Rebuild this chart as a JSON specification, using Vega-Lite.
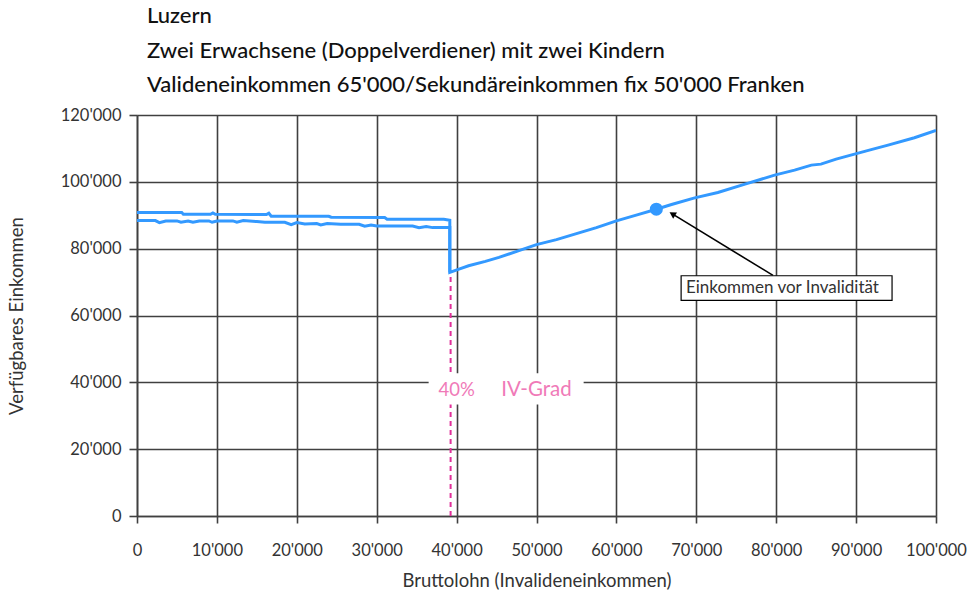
{
  "$schema": "https://vega.github.io/schema/vega-lite/v6.json",
  "autosize": {"type": "none"},
  "width": 799,
  "height": 401,
  "padding": {"left": 137, "top": 115, "right": 40, "bottom": 83},
  "background": "white",
  "config": {
    "locale": {"number": {"decimal": ".", "thousands": "'", "grouping": [3], "currency": ["", ""]}},
    "font": "Lato",
    "view": {"stroke": null}
  },
  "title": {
    "text": ["Luzern", "Zwei Erwachsene (Doppelverdiener) mit zwei Kindern", "Valideneinkommen 65'000/Sekundäreinkommen fix 50'000 Franken"],
    "anchor": "start",
    "frame": "group",
    "dx": 10,
    "offset": 10,
    "font": "Lato",
    "fontSize": 22,
    "fontWeight": 500,
    "lineHeight": 34.5,
    "color": "#111111"
  },
  "datasets": {
    "lines": [
      {"s": "A", "x": 0, "y": 90800}, {"s": "A", "x": 5600, "y": 90800}, {"s": "A", "x": 5800, "y": 90300},
      {"s": "A", "x": 9200, "y": 90300}, {"s": "A", "x": 9500, "y": 90700}, {"s": "A", "x": 9800, "y": 90300},
      {"s": "A", "x": 16200, "y": 90200}, {"s": "A", "x": 16500, "y": 90600}, {"s": "A", "x": 16800, "y": 89700},
      {"s": "A", "x": 24000, "y": 89700}, {"s": "A", "x": 24300, "y": 89400}, {"s": "A", "x": 31000, "y": 89300},
      {"s": "A", "x": 31300, "y": 88800}, {"s": "A", "x": 38400, "y": 88800}, {"s": "A", "x": 39150, "y": 88500},
      {"s": "A", "x": 39150, "y": 72900}, {"s": "A", "x": 40300, "y": 73900}, {"s": "A", "x": 41500, "y": 74900},
      {"s": "A", "x": 43600, "y": 76200}, {"s": "A", "x": 45300, "y": 77400}, {"s": "A", "x": 47800, "y": 79400},
      {"s": "A", "x": 50000, "y": 81200}, {"s": "A", "x": 52500, "y": 82700}, {"s": "A", "x": 55000, "y": 84500},
      {"s": "A", "x": 57500, "y": 86300}, {"s": "A", "x": 60000, "y": 88300}, {"s": "A", "x": 62700, "y": 90200},
      {"s": "A", "x": 65000, "y": 91800}, {"s": "A", "x": 66900, "y": 93200}, {"s": "A", "x": 69800, "y": 95200},
      {"s": "A", "x": 72700, "y": 96800}, {"s": "A", "x": 76100, "y": 99300}, {"s": "A", "x": 79800, "y": 102000},
      {"s": "A", "x": 82300, "y": 103500}, {"s": "A", "x": 84400, "y": 105000}, {"s": "A", "x": 85600, "y": 105300},
      {"s": "A", "x": 87500, "y": 106800}, {"s": "A", "x": 89800, "y": 108300}, {"s": "A", "x": 92000, "y": 109700},
      {"s": "A", "x": 94000, "y": 111000}, {"s": "A", "x": 97300, "y": 113200}, {"s": "A", "x": 100000, "y": 115400},
      {"s": "B", "x": 0, "y": 88400}, {"s": "B", "x": 2300, "y": 88400}, {"s": "B", "x": 2800, "y": 87800},
      {"s": "B", "x": 3600, "y": 88300}, {"s": "B", "x": 5000, "y": 88300}, {"s": "B", "x": 5500, "y": 87900},
      {"s": "B", "x": 6400, "y": 88300}, {"s": "B", "x": 7000, "y": 87900}, {"s": "B", "x": 7800, "y": 88300},
      {"s": "B", "x": 9000, "y": 88300}, {"s": "B", "x": 9400, "y": 87900}, {"s": "B", "x": 10000, "y": 88300},
      {"s": "B", "x": 12000, "y": 88300}, {"s": "B", "x": 12500, "y": 87900}, {"s": "B", "x": 13300, "y": 88400},
      {"s": "B", "x": 15000, "y": 88100}, {"s": "B", "x": 16000, "y": 87900}, {"s": "B", "x": 18500, "y": 87900},
      {"s": "B", "x": 19300, "y": 87200}, {"s": "B", "x": 20000, "y": 87800}, {"s": "B", "x": 21000, "y": 87400},
      {"s": "B", "x": 22500, "y": 87500}, {"s": "B", "x": 23000, "y": 87100}, {"s": "B", "x": 23800, "y": 87500},
      {"s": "B", "x": 25500, "y": 87300}, {"s": "B", "x": 27800, "y": 87300}, {"s": "B", "x": 28500, "y": 86700},
      {"s": "B", "x": 29300, "y": 87100}, {"s": "B", "x": 30000, "y": 86800}, {"s": "B", "x": 34500, "y": 86800},
      {"s": "B", "x": 35300, "y": 86300}, {"s": "B", "x": 36200, "y": 86600}, {"s": "B", "x": 37000, "y": 86300},
      {"s": "B", "x": 39150, "y": 86300}, {"s": "B", "x": 39150, "y": 72900}
    ],
    "marker": [{"x": 65000, "y": 91800, "label": "Einkommen vor Invalidität"}],
    "grad": [{"x": 39250, "y": 0, "y2": 72900, "pct": "40%", "lbl": "IV-Grad"}]
  },
  "layer": [
    {
      "data": {"name": "grad"},
      "mark": {"type": "rule", "color": "#e0309a", "strokeWidth": 2, "strokeDash": [5, 4]},
      "encoding": {
        "x": {"field": "x", "type": "quantitative", "scale": {"domain": [0, 100000]},
          "axis": {"values": [0,10000,20000,30000,40000,50000,60000,70000,80000,90000,100000], "format": ",d",
            "labelOverlap": false, "labelFlush": false, "labelBound": false,
            "title": "Bruttolohn (Invalideneinkommen)", "grid": true, "gridColor": "#404040", "gridWidth": 1.6, "gridOpacity": 1,
            "domainColor": "#404040", "domainWidth": 1.6, "tickColor": "#404040", "tickWidth": 1.6, "tickSize": 7,
            "labelPadding": 19, "labelFontSize": 16.5, "labelColor": "#333333", "labelFont": "Lato",
            "titleFontSize": 18.5, "titleFontWeight": "normal", "titleColor": "#333333", "titlePadding": 13, "titleFont": "Lato"}},
        "y": {"field": "y", "type": "quantitative", "scale": {"domain": [0, 120000]},
          "axis": {"values": [0,20000,40000,60000,80000,100000,120000], "format": ",d", "labelOverlap": false,
            "title": "Verfügbares Einkommen", "grid": true, "gridColor": "#404040", "gridWidth": 1.6, "gridOpacity": 1,
            "domainColor": "#404040", "domainWidth": 1.6, "tickColor": "#404040", "tickWidth": 1.6, "tickSize": 8,
            "labelPadding": 8, "labelFontSize": 16.5, "labelColor": "#333333", "labelFont": "Lato",
            "titleFontSize": 18.5, "titleFontWeight": "normal", "titleColor": "#333333", "titlePadding": 34, "titleFont": "Lato"}},
        "y2": {"field": "y2"}
      }
    },
    {
      "data": {"name": "grad"},
      "mark": {"type": "rect", "fill": "white", "stroke": null},
      "encoding": {
        "x": {"datum": 36500, "type": "quantitative"},
        "x2": {"datum": 55900},
        "y": {"datum": 33400, "type": "quantitative"},
        "y2": {"datum": 42700}
      }
    },
    {
      "data": {"name": "grad"},
      "mark": {"type": "text", "color": "#f07ab8", "fontSize": 18.5, "font": "Lato", "align": "center", "baseline": "middle"},
      "encoding": {
        "x": {"datum": 40000, "type": "quantitative"},
        "y": {"datum": 37800, "type": "quantitative"},
        "text": {"field": "pct"}
      }
    },
    {
      "data": {"name": "grad"},
      "mark": {"type": "text", "color": "#f07ab8", "fontSize": 20.5, "font": "Lato", "align": "center", "baseline": "middle"},
      "encoding": {
        "x": {"datum": 50000, "type": "quantitative"},
        "y": {"datum": 37800, "type": "quantitative"},
        "text": {"field": "lbl"}
      }
    },
    {
      "data": {"name": "lines"},
      "mark": {"type": "line", "color": "#3399ff", "strokeWidth": 3, "clip": true},
      "encoding": {
        "x": {"field": "x", "type": "quantitative"},
        "y": {"field": "y", "type": "quantitative"},
        "detail": {"field": "s"},
        "order": {"value": 0}
      }
    },
    {
      "data": {"name": "marker"},
      "mark": {"type": "point", "filled": true, "color": "#3399ff", "size": 170, "opacity": 1},
      "encoding": {
        "x": {"field": "x", "type": "quantitative"},
        "y": {"field": "y", "type": "quantitative"}
      }
    },
    {
      "data": {"name": "marker"},
      "mark": {"type": "rule", "color": "black", "strokeWidth": 1.6},
      "encoding": {
        "x": {"datum": 79600, "type": "quantitative"},
        "y": {"datum": 72000, "type": "quantitative"},
        "x2": {"datum": 67200},
        "y2": {"datum": 90100}
      }
    },
    {
      "data": {"name": "marker"},
      "mark": {"type": "point", "shape": "triangle-up", "filled": true, "color": "black", "size": 55, "angle": 301, "opacity": 1},
      "encoding": {
        "x": {"datum": 67000, "type": "quantitative"},
        "y": {"datum": 90400, "type": "quantitative"}
      }
    },
    {
      "data": {"name": "marker"},
      "mark": {"type": "rect", "fill": "white", "stroke": "black", "strokeWidth": 1.2},
      "encoding": {
        "x": {"datum": 68100, "type": "quantitative"},
        "x2": {"datum": 94500},
        "y": {"datum": 64500, "type": "quantitative"},
        "y2": {"datum": 71900}
      }
    },
    {
      "data": {"name": "marker"},
      "mark": {"type": "text", "color": "#333333", "fontSize": 17, "font": "Lato", "align": "left", "baseline": "middle"},
      "encoding": {
        "x": {"datum": 68700, "type": "quantitative"},
        "y": {"datum": 68100, "type": "quantitative"},
        "text": {"field": "label"}
      }
    }
  ]
}
